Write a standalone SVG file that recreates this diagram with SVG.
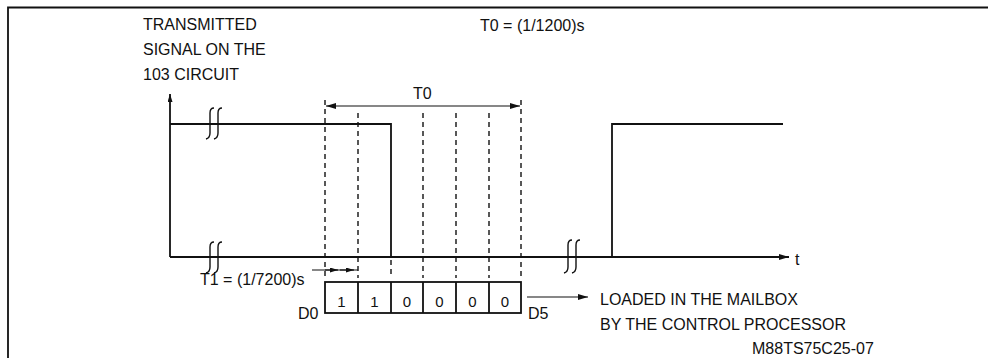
<svg xmlns="http://www.w3.org/2000/svg" width="988" height="358" viewBox="0 0 988 358">
<defs>
<style>
text{font-family:"Liberation Sans",Arial,sans-serif;font-size:16px;fill:#111}
.ln{stroke:#111;stroke-width:1.8;fill:none}
.th{stroke:#111;stroke-width:1.1;fill:none}
.ds{stroke:#111;stroke-width:1.4;stroke-dasharray:5 4;fill:none}
.br{stroke:#111;stroke-width:1.4;fill:none}
.dg{font-size:15px;text-anchor:middle}
</style>
<marker id="ah" viewBox="0 0 10 6" refX="10" refY="3" markerWidth="10" markerHeight="6" markerUnits="userSpaceOnUse" orient="auto-start-reverse">
<path d="M0,0 L10,3 L0,6 Z" fill="#111"/>
</marker>
<marker id="ahs" viewBox="0 0 8 5" refX="8" refY="2.5" markerWidth="8" markerHeight="5" markerUnits="userSpaceOnUse" orient="auto-start-reverse">
<path d="M0,0 L8,2.5 L0,5 Z" fill="#111"/>
</marker>
</defs>
<rect width="988" height="358" fill="#fff"/>
<g id="frame">
<path class="ln" d="M8,358 V7.5 H988"/>
</g>
<g id="labels">
<text x="143" y="30">TRANSMITTED</text>
<text x="143" y="55">SIGNAL ON THE</text>
<text x="143" y="80">103 CIRCUIT</text>
<text x="480" y="31">T0 = (1/1200)s</text>
<text x="413" y="99">T0</text>
<text x="200" y="285">T1 = (1/7200)s</text>
<text x="298" y="319">D0</text>
<text x="528" y="319">D5</text>
<text x="795" y="265">t</text>
<text x="600" y="305">LOADED IN THE MAILBOX</text>
<text x="600" y="330">BY THE CONTROL PROCESSOR</text>
<text x="752" y="354">M88TS75C25-07</text>
</g>
<g id="axes">
<line class="ln" x1="170" y1="257" x2="170" y2="94" marker-end="url(#ahs)"/>
<line class="ln" x1="170" y1="257" x2="789" y2="257" marker-end="url(#ah)"/>
</g>
<g id="signal">
<path class="ln" d="M170,124 H391 V257"/>
<path class="ln" d="M612,257 V124 H783"/>
</g>
<g id="breaks">
<path class="br" d="M214,108 Q210,108 210,113 V133 Q210,138 206,139"/>
<path class="br" d="M222,108 Q218,108 218,113 V133 Q218,138 214,139"/>
<path class="br" d="M214,242 Q210,242 210,247 V267 Q210,272 206,273"/>
<path class="br" d="M222,242 Q218,242 218,247 V267 Q218,272 214,273"/>
<path class="br" d="M572,240 Q568,240 568,245 V267 Q568,272 564,273"/>
<path class="br" d="M580,240 Q576,240 576,245 V267 Q576,272 572,273"/>
</g>
<g id="connectors">
<line class="ds" x1="325" y1="100" x2="325" y2="278"/>
<line class="ds" x1="358" y1="113" x2="358" y2="278"/>
<line class="ds" x1="391" y1="260" x2="391" y2="278"/>
<line class="ds" x1="423" y1="113" x2="423" y2="278"/>
<line class="ds" x1="456" y1="113" x2="456" y2="278"/>
<line class="ds" x1="489" y1="113" x2="489" y2="278"/>
<line class="ds" x1="521" y1="100" x2="521" y2="278"/>
<line class="th" x1="326" y1="106" x2="520" y2="106" marker-start="url(#ah)" marker-end="url(#ah)"/>
<line class="th" x1="312" y1="270" x2="358" y2="270"/>
<line class="th" x1="325" y1="270" x2="338" y2="270" marker-end="url(#ahs)"/>
<line class="th" x1="340" y1="270" x2="354" y2="270" marker-end="url(#ahs)"/>
<line class="th" x1="527" y1="297" x2="588" y2="297" marker-end="url(#ah)"/>
</g>
<g id="register">
<rect class="ln" x="325" y="282" width="196" height="31"/>
<path class="ln" d="M358,282 V313 M391,282 V313 M423,282 V313 M456,282 V313 M489,282 V313"/>
<text class="dg" x="341.5" y="307">1</text>
<text class="dg" x="374.5" y="307">1</text>
<text class="dg" x="407" y="307">0</text>
<text class="dg" x="439.5" y="307">0</text>
<text class="dg" x="472.5" y="307">0</text>
<text class="dg" x="505" y="307">0</text>
</g>
</svg>
